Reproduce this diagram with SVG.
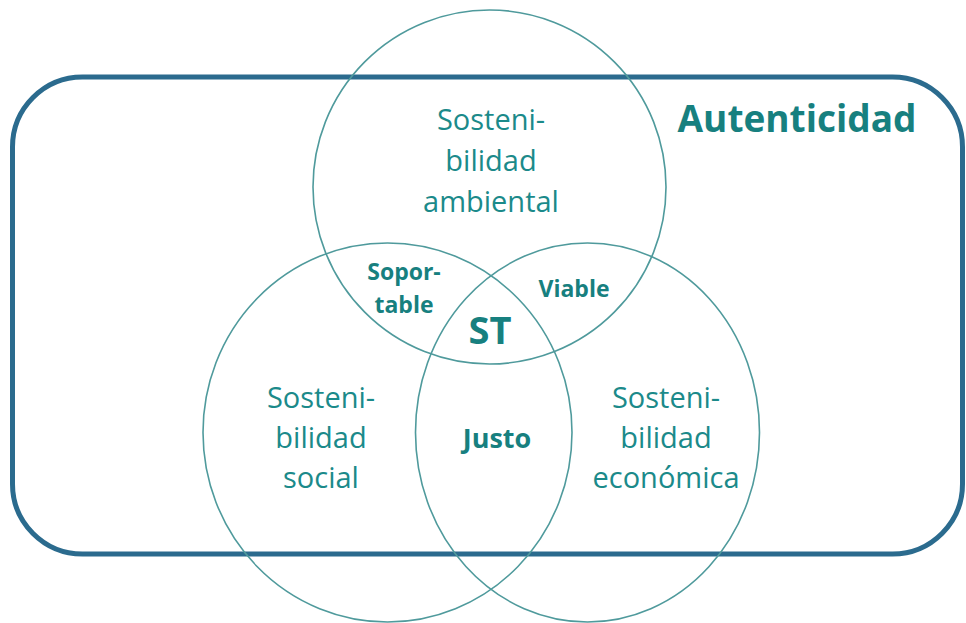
<svg xmlns="http://www.w3.org/2000/svg" width="966" height="623" viewBox="0 0 966 623">
<style>
.frame{fill:none;stroke:#2b6b8e;stroke-width:5}
.ring{fill:none;stroke:#4f9a9c;stroke-width:1.6}
.lbl{font-family:"Open Sans","Liberation Sans",sans-serif;fill:#1b8a8a;text-anchor:middle;font-size:29px}
.b{font-weight:bold;fill:#17807f}
</style>
<rect width="966" height="623" fill="#ffffff"/>
<g id="autenticidad">
<rect class="frame" x="12.5" y="77" width="950" height="477" rx="70" ry="70"/>
<text class="lbl b" x="797" y="132" style="font-size:37px">Autenticidad</text>
</g>
<g id="ambiental">
<ellipse class="ring" cx="489.5" cy="187" rx="176.5" ry="177"/>
<text class="lbl" x="491" y="130">Sosteni-</text>
<text class="lbl" x="491" y="171">bilidad</text>
<text class="lbl" x="491" y="212">ambiental</text>
</g>
<g id="social">
<ellipse class="ring" cx="387.5" cy="432.5" rx="184.5" ry="189.5"/>
<text class="lbl" x="321" y="408">Sosteni-</text>
<text class="lbl" x="321" y="448">bilidad</text>
<text class="lbl" x="321" y="488">social</text>
</g>
<g id="economica">
<ellipse class="ring" cx="587.5" cy="432.5" rx="172" ry="189.5"/>
<text class="lbl" x="666" y="408">Sosteni-</text>
<text class="lbl" x="666" y="448">bilidad</text>
<text class="lbl" x="666" y="488">económica</text>
</g>
<g id="soportable">
<text class="lbl b" x="404" y="280" style="font-size:23px">Sopor-</text>
<text class="lbl b" x="404" y="313" style="font-size:23px">table</text>
</g>
<g id="viable">
<text class="lbl b" x="574" y="297" style="font-size:23px">Viable</text>
</g>
<g id="st">
<text class="lbl b" x="490" y="344" style="font-size:38px">ST</text>
</g>
<g id="justo">
<text class="lbl b" x="497" y="448" style="font-size:27px">Justo</text>
</g>
<g id="connectors"></g>
</svg>
